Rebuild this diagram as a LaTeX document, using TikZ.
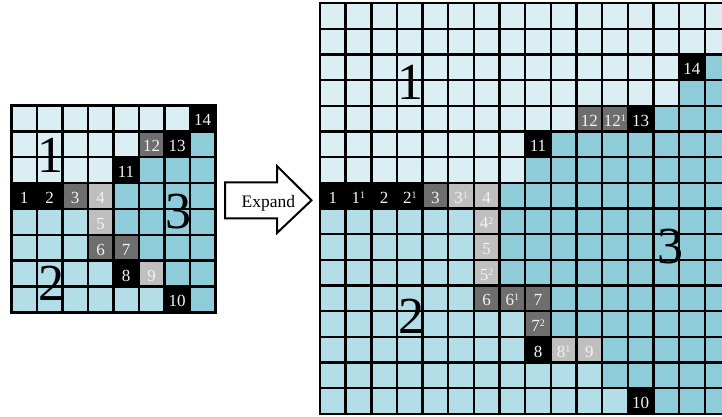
\documentclass[tikz,border=0pt]{standalone}
\usepackage{fontspec}
\setmainfont{Liberation Serif}
\definecolor{gA}{HTML}{DAEEF3}
\definecolor{gB}{HTML}{B3DDE7}
\definecolor{gC}{HTML}{8FCCDA}
\definecolor{gD}{HTML}{6E6E6E}
\definecolor{gL}{HTML}{BFBFBF}
\definecolor{gK}{HTML}{000000}
\definecolor{numtxt}{HTML}{F2F2F2}
\newcommand\supnum[1]{\raisebox{4.8pt}{\fontsize{10}{10}\selectfont #1}}
\tikzset{
  gridline/.style={line width=2.4pt, draw=black},
  num/.style={anchor=base, yshift=-7.5pt, text=numtxt, font=\fontsize{17}{17}\selectfont, inner sep=0pt},
  big/.style={font=\fontsize{52}{52}\selectfont, inner sep=0pt, text=black},
  arrowshape/.style={line width=2pt, line join=miter, draw=black, fill=white},
}
\begin{document}
\begin{tikzpicture}[x=1pt,y=-1pt]
\useasboundingbox (0,0) rectangle (722,417);
\clip (0,0) rectangle (722,417);
% ---------------- left grid ----------------
\begin{scope}[shift={(11.3pt,-105.5pt)}, x=25.5pt, y=-25.85pt]
  \foreach \row [count=\r from 0] in {
    {A,A,A,A,A,A,A,K},
    {A,A,A,A,A,D,K,C},
    {A,A,A,A,K,C,C,C},
    {K,K,D,L,C,C,C,C},
    {B,B,B,L,C,C,C,C},
    {B,B,B,D,D,C,C,C},
    {B,B,B,B,K,L,C,C},
    {B,B,B,B,B,B,K,C}}{
    \foreach \c [count=\k from 0] in \row {
      \fill[g\c] (\k,\r) rectangle ++(1,1);
    }
  }
  \foreach \i in {1,...,7} {
    \draw[gridline] (\i,0) -- (\i,8);
    \draw[gridline] (0,\i) -- (8,\i);
  }
  \draw[gridline] (0,0) rectangle (8,8);
  \foreach \x/\y/\t in {7/0/14, 5/1/12, 6/1/13, 4/2/11, 0/3/1, 1/3/2, 2/3/3, 3/3/4,
      3/4/5, 3/5/6, 4/5/7, 4/6/8, 5/6/9, 6/7/10} {
    \node[num] (l\x-\y) at (\x+0.5,\y+0.5) {\t};
  }
\end{scope}
\node[big] (bigl1) at (50,155.8) {1};
\node[big] (bigl3) at (178.5,211.7) {3};
\node[big] (bigl2) at (51,283) {2};
% ---------------- arrow ----------------
\draw[arrowshape] (225,182.3) -- (277,182.3) -- (277,166) -- (311.5,200.3)
  -- (277,233) -- (277,218.3) -- (225,218.3) -- cycle;
\node[font=\fontsize{17.5}{17.5}\selectfont, anchor=base, inner sep=0pt] (expand) at (268.3,207.3) {Expand};
% ---------------- right grid ----------------
\begin{scope}[shift={(320pt,-3.3pt)}, x=25.65pt, y=-25.65pt]
  \foreach \row [count=\r from 0] in {
    {A,A,A,A,A,A,A,A,A,A,A,A,A,A,A,A},
    {A,A,A,A,A,A,A,A,A,A,A,A,A,A,A,A},
    {A,A,A,A,A,A,A,A,A,A,A,A,A,A,K,C},
    {A,A,A,A,A,A,A,A,A,A,A,A,A,A,C,C},
    {A,A,A,A,A,A,A,A,A,A,D,D,K,C,C,C},
    {A,A,A,A,A,A,A,A,K,C,C,C,C,C,C,C},
    {A,A,A,A,A,A,A,A,C,C,C,C,C,C,C,C},
    {K,K,K,K,D,L,L,C,C,C,C,C,C,C,C,C},
    {B,B,B,B,B,B,L,C,C,C,C,C,C,C,C,C},
    {B,B,B,B,B,B,L,C,C,C,C,C,C,C,C,C},
    {B,B,B,B,B,B,L,C,C,C,C,C,C,C,C,C},
    {B,B,B,B,B,B,D,D,D,C,C,C,C,C,C,C},
    {B,B,B,B,B,B,B,B,D,C,C,C,C,C,C,C},
    {B,B,B,B,B,B,B,B,K,L,L,C,C,C,C,C},
    {B,B,B,B,B,B,B,B,B,B,B,C,C,C,C,C},
    {B,B,B,B,B,B,B,B,B,B,B,B,K,C,C,C}}{
    \foreach \c [count=\k from 0] in \row {
      \fill[g\c] (\k,\r) rectangle ++(1,1);
    }
  }
  \foreach \i in {1,...,15} {
    \draw[gridline] (\i,0) -- (\i,16);
    \draw[gridline] (0,\i) -- (16,\i);
  }
  \draw[gridline] (0,0) rectangle (16,16);
  \foreach \x/\y/\t in {14/2/14, 10/4/12, 11/4/12\supnum{1}, 12/4/13, 8/5/11,
      0/7/1, 1/7/1\supnum{1}, 2/7/2, 3/7/2\supnum{1}, 4/7/3, 5/7/3\supnum{1}, 6/7/4,
      6/8/4\supnum{2}, 6/9/5, 6/10/5\supnum{2}, 6/11/6, 7/11/6\supnum{1}, 8/11/7,
      8/12/7\supnum{2}, 8/13/8, 9/13/8\supnum{1}, 10/13/9, 12/15/10} {
    \node[num] (r\x-\y) at (\x+0.5,\y+0.5) {\t};
  }
\end{scope}
\node[big] (bigr1) at (410.5,82.5) {1};
\node[big] (bigr3) at (670,246.7) {3};
\node[big] (bigr2) at (411,316.7) {2};
\end{tikzpicture}
\end{document}
